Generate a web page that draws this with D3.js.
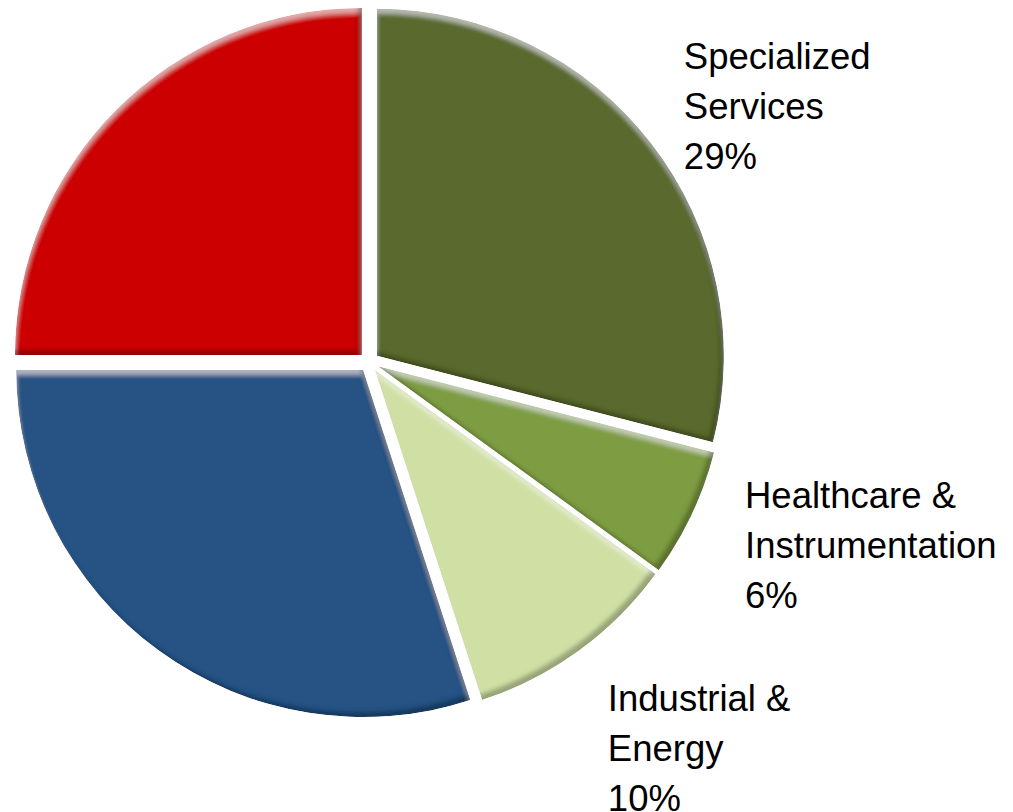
<!doctype html>
<html lang="en">
<head>
  <meta charset="utf-8">
  <script src="https://cdn.jsdelivr.net/npm/d3@7"></script>
</head>
<style>
    body {
        margin: 0;
        background-color: white;
        font-family: "Liberation Sans", Arial, Helvetica, sans-serif;
    }
</style>
<body>
<svg id="chart" width="1013" height="812"></svg>
<script>

    // slices, clockwise from 12 o'clock
    let categories = ["Specialized Services", "Healthcare & Instrumentation", "Industrial & Energy", "Other A", "Other B"]
    let values = [29, 6, 10, 30, 25]
    let colors = ["#5a6b2f", "#7e9c43", "#d0e0a5", "#265284", "#cc0000"]
    // label text lines, null = no label drawn
    let labelLines = [["Specialized", "Services"], ["Healthcare &", "Instrumentation"], ["Industrial &", "Energy"], null, null]

    let width = 1013, height = 812
    let cx = 369, cy = 362, radius = 347, explode = 10

    let svg = d3.select('#chart')

    let defs = svg.append('defs')
    let f = defs.append('filter')
        .attr('id', 'bevel')
        .attr('x', '-5%').attr('y', '-5%')
        .attr('width', '110%').attr('height', '110%')
    f.append('feGaussianBlur').attr('in', 'SourceAlpha').attr('stdDeviation', 2).attr('result', 'b')
    f.append('feOffset').attr('in', 'b').attr('dx', 0).attr('dy', 5).attr('result', 'o1')
    f.append('feComposite').attr('in', 'SourceAlpha').attr('in2', 'o1').attr('operator', 'out').attr('result', 'hl')
    f.append('feFlood').attr('flood-color', 'white').attr('flood-opacity', 0.4)
    f.append('feComposite').attr('in2', 'hl').attr('operator', 'in').attr('result', 'hlc')
    f.append('feOffset').attr('in', 'b').attr('dx', -4).attr('dy', -5).attr('result', 'o2')
    f.append('feComposite').attr('in', 'SourceAlpha').attr('in2', 'o2').attr('operator', 'out').attr('result', 'sh')
    f.append('feFlood').attr('flood-color', 'black').attr('flood-opacity', 0.5)
    f.append('feComposite').attr('in2', 'sh').attr('operator', 'in').attr('result', 'shc')
    let m = f.append('feMerge').attr('result', 'merged')
    m.append('feMergeNode').attr('in', 'SourceGraphic')
    m.append('feMergeNode').attr('in', 'hlc')
    m.append('feMergeNode').attr('in', 'shc')
    f.append('feComposite').attr('in', 'merged').attr('in2', 'SourceAlpha').attr('operator', 'in')

    let total = d3.sum(values)
    let pie = d3.pie().sort(null).value(d => d)
    let arcs = pie(values)

    let arc = d3.arc().innerRadius(0).outerRadius(radius)

    let g = svg.append('g').attr('transform', 'translate(' + cx + ',' + cy + ')')

    g.selectAll('.slice')
        .data(arcs)
        .enter()
        .append('path')
        .attr('class', 'slice')
        .attr('d', arc)
        .attr('fill', (d, i) => colors[i])
        .attr('filter', 'url(#bevel)')
        .attr('transform', d => {
            let a = (d.startAngle + d.endAngle) / 2
            return 'translate(' + (explode * Math.sin(a)) + ',' + (-explode * Math.cos(a)) + ')'
        })

    // label anchors: point outside the pie on the slice bisector, plus a nudge
    let labelRadius = 420
    let labelNudge = [[-17, -36], [-4, -33], [-8, 9], [0, 0], [0, 0]]
    let lineHeight = 50

    arcs.forEach((d, i) => {
        if (!labelLines[i]) return
        let a = (d.startAngle + d.endAngle) / 2
        let x = labelRadius * Math.sin(a) + labelNudge[i][0]
        let y = -labelRadius * Math.cos(a) + labelNudge[i][1]
        let lines = labelLines[i].concat([Math.round(values[i] / total * 100) + '%'])
        let t = g.append('text')
            .attr('x', x)
            .attr('y', y)
            .attr('font-size', '36.5px')
            .attr('fill', 'black')
        lines.forEach((l, k) => {
            t.append('tspan')
                .attr('x', x)
                .attr('y', y + k * lineHeight)
                .text(l)
        })
    })

</script>
</body>
</html>
